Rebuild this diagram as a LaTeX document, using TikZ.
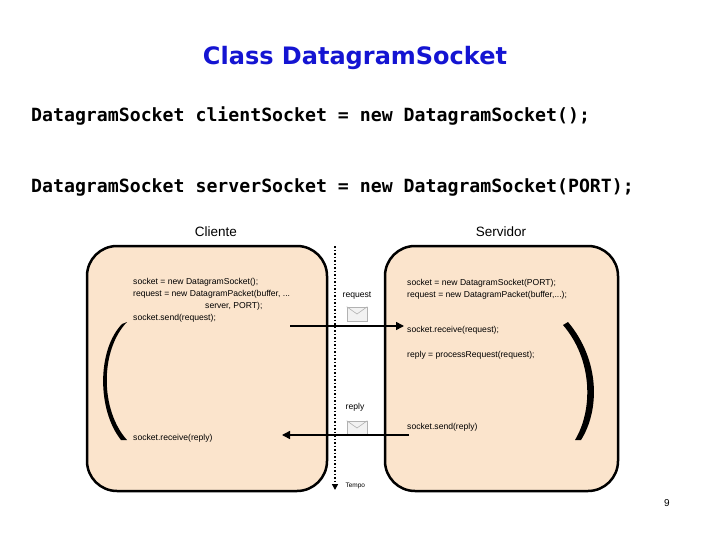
\documentclass[tikz,border=0pt]{standalone}
\usepackage{fontspec}
\setmainfont{Liberation Sans}
\newfontfamily\codefont{DejaVu Sans Mono}
\newfontfamily\titlefont{DejaVu Sans}
\usetikzlibrary{arrows.meta}
\definecolor{boxfill}{RGB}{251,228,204}
\definecolor{titleblue}{RGB}{20,20,210}
\tikzset{
  proc/.style={draw=black,line width=2.5pt,fill=boxfill,rounded corners=30pt},
  code/.style={anchor=west,font=\fontsize{8.6}{10}\selectfont,inner sep=0pt},
  decl/.style={anchor=west,font=\codefont\bfseries\fontsize{18.2}{20}\selectfont,inner sep=0pt},
  side/.style={font=\fontsize{13.5}{15}\selectfont},
  msg/.style={draw=black!30,fill=black!5,line width=0.6pt},
  flow/.style={line width=1.5pt,-{Triangle[length=8pt,width=8pt]}},
  loopbar/.style={fill=black},
}
\begin{document}
\begin{tikzpicture}[x=1pt,y=-1pt]
\useasboundingbox (0,0) rectangle (720,540);
\node[font=\titlefont\bfseries\fontsize{24}{27}\selectfont,text=titleblue] (title) at (355,58) {Class DatagramSocket};
\node[decl] (cl) at (31,116) {DatagramSocket clientSocket = new DatagramSocket();};
\node[decl] (sv) at (31,187) {DatagramSocket serverSocket = new DatagramSocket(PORT);};
\node[side] (cliente) at (216,232) {Cliente};
\node[side] (servidor) at (501,232) {Servidor};
% processes
\path[proc] (87,246) rectangle (327,491);
\path[proc] (385,246) rectangle (618,491);
% time axis
\coordinate (t0) at (335,246);
\coordinate (t1) at (335,490);
\draw[line width=1.5pt,dotted,-{Triangle[length=6pt,width=6pt]}] (t0) -- (t1);
\node[anchor=west,font=\fontsize{6.5}{8}\selectfont] (tempo) at (342,486) {Tempo};
% client code
\node[code] (c1) at (133,282) {socket = new DatagramSocket();};
\node[code] (c2) at (133,294) {request = new DatagramPacket(buffer, ...};
\node[code] (c3) at (205,306) {server, PORT);};
\node[code] (c4) at (133,318) {socket.send(request);};
\node[code] (c5) at (133,438) {socket.receive(reply)};
% server code
\node[code] (s1) at (407,283) {socket = new DatagramSocket(PORT);};
\node[code] (s2) at (407,295) {request = new DatagramPacket(buffer,...);};
\node[code] (s3) at (407,330) {socket.receive(request);};
\node[code] (s4) at (407,355) {reply = processRequest(request);};
\node[code] (s5) at (407,427) {socket.send(reply)};
% messages
\node[font=\fontsize{8.6}{10}\selectfont] (lreq) at (357,296) {request};
\node[font=\fontsize{8.6}{10}\selectfont] (lrep) at (355,407) {reply};
\node[msg,minimum width=20pt,minimum height=14pt,inner sep=0pt] (env1) at (357,314) {};
\draw[black!30,line width=0.6pt] (env1.north west) -- (env1.center) -- (env1.north east);
\node[msg,minimum width=20pt,minimum height=14pt,inner sep=0pt] (env2) at (357,428) {};
\draw[black!30,line width=0.6pt] (env2.north west) -- (env2.center) -- (env2.north east);
\coordinate (a0) at (290,326);
\coordinate (a1) at (404,326);
\draw[flow] (a0) -- (a1);
\coordinate (b0) at (409,435);
\coordinate (b1) at (282,435);
\draw[flow] (b0) -- (b1);
% loops
\fill[loopbar] (127,322) .. controls (100,350) and (100,410) .. (127,440)
  -- (121,440) .. controls (97,410) and (97,350) .. (122,324) -- cycle;
\fill[loopbar] (568,322) .. controls (600,360) and (600,410) .. (581,440)
  -- (575,440) .. controls (593,410) and (593,360) .. (563,325) -- cycle;
\node[font=\fontsize{10}{12}\selectfont] (page) at (667,503) {9};
\end{tikzpicture}
\end{document}
